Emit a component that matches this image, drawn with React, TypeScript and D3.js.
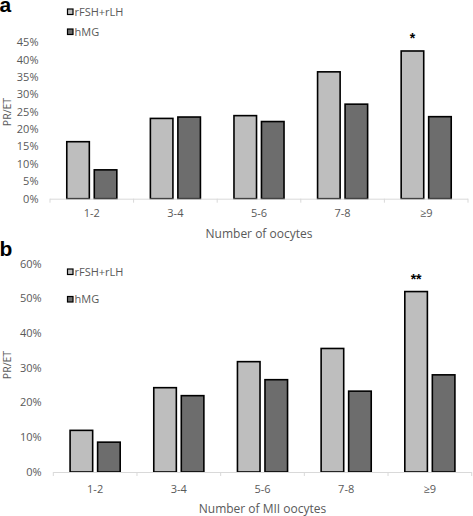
import React from "react";
import * as d3 from "d3";

const categories = ["1-2", "3-4", "5-6", "7-8", "≥9"];
const seriesNames = ["rFSH+rLH", "hMG"];
const seriesColors = ["#BEBEBE", "#6D6D6D"];

const panelA_rFSH = [0.164, 0.231, 0.239, 0.365, 0.425];
const panelA_hMG = [0.083, 0.235, 0.222, 0.272, 0.236];
const panelA_ticks = [0, 0.05, 0.1, 0.15, 0.2, 0.25, 0.3, 0.35, 0.4, 0.45];

const panelB_rFSH = [0.12, 0.243, 0.318, 0.356, 0.52];
const panelB_hMG = [0.086, 0.22, 0.266, 0.233, 0.28];
const panelB_ticks = [0, 0.1, 0.2, 0.3, 0.4, 0.5, 0.6];

const FONT = "'Open Sans', 'Liberation Sans', sans-serif";
const TXT = "#595959";

type PanelProps = {
  letter: string;
  letterY: number;
  rFSH: number[];
  hMG: number[];
  ticks: number[];
  yMax: number;
  y0: number;
  yTop: number;
  x0: number;
  x1: number;
  tickLabelX: number;
  legendY: number[];
  star: string;
  starIndex: number;
  xTitle: string;
  xTitleY: number;
  catLabelY: number;
  yTitleY: number;
};

function Panel(p: PanelProps) {
  const x = d3.scaleBand<string>().domain(categories).range([p.x0, p.x1]).padding(0);
  const xs = d3
    .scaleBand<string>()
    .domain(seriesNames)
    .range([0, x.bandwidth()])
    .paddingInner(0.18)
    .paddingOuter(0.61);
  const y = d3.scaleLinear().domain([0, p.yMax]).range([p.y0, p.yTop]);
  const fmt = d3.format(".0%");
  const values = [p.rFSH, p.hMG];
  const boundaries = [...categories.map((c) => x(c)!), p.x1];
  return (
    <g>
      <text x={-0.5} y={p.letterY} fontFamily="'Liberation Sans', Arial, sans-serif" fontWeight="bold" fontSize={21} fill="#000">
        {p.letter}
      </text>
      {p.ticks.map((t) => (
        <text key={t} x={p.tickLabelX} y={y(t)} dy="0.35em" textAnchor="end" fontFamily={FONT} fontSize={11} fill={TXT}>
          {fmt(t)}
        </text>
      ))}
      <text
        transform={`translate(10.5,${p.yTitleY}) rotate(-90)`}
        textAnchor="middle"
        fontFamily={FONT}
        fontSize={10.5}
        fill={TXT}
      >
        PR/ET
      </text>
      {seriesNames.map((s, si) =>
        categories.map((c, ci) => (
          <rect
            key={s + c}
            x={x(c)! + xs(s)!}
            y={y(values[si][ci])}
            width={xs.bandwidth()}
            height={p.y0 - y(values[si][ci])}
            fill={seriesColors[si]}
            stroke="#000"
            strokeWidth={1.6}
          />
        ))
      )}
      <line x1={p.x0} x2={p.x1} y1={p.y0 + 0.5} y2={p.y0 + 0.5} stroke="#D9D9D9" strokeWidth={1} />
      {boundaries.map((b, i) => (
        <line key={i} x1={b} x2={b} y1={p.y0} y2={p.y0 + 4} stroke="#D9D9D9" strokeWidth={1} />
      ))}
      {categories.map((c) => (
        <text key={c} x={x(c)! + x.bandwidth() / 2} y={p.catLabelY} dy="0.35em" textAnchor="middle" fontFamily={FONT} fontSize={11} fill={TXT}>
          {c}
        </text>
      ))}
      <text x={(p.x0 + p.x1) / 2} y={p.xTitleY} dy="0.35em" textAnchor="middle" fontFamily={FONT} fontSize={12} fill={TXT}>
        {p.xTitle}
      </text>
      <text
        x={x(categories[p.starIndex])! + xs(seriesNames[0])! + xs.bandwidth() / 2}
        y={y(p.rFSH[p.starIndex]) - 8}
        textAnchor="middle"
        fontFamily="'Liberation Sans', Arial, sans-serif"
        fontWeight="bold"
        fontSize={14}
        fill="#000"
      >
        {p.star}
      </text>
      {seriesNames.map((s, si) => (
        <g key={s}>
          <rect x={67.5} y={p.legendY[si] - 3} width={5.5} height={5.5} fill={seriesColors[si]} stroke="#000" strokeWidth={1.2} />
          <text x={74.5} y={p.legendY[si]} dy="0.35em" fontFamily={FONT} fontSize={11} fill={TXT}>
            {s}
          </text>
        </g>
      ))}
    </g>
  );
}

export default function App() {
  return (
    <svg width={473} height={516} style={{ position: "absolute", left: 0, top: 0, background: "#fff" }}>
      <rect width={473} height={516} fill="#fff" />
      <Panel
        letter="a"
        letterY={11.5}
        rFSH={panelA_rFSH}
        hMG={panelA_hMG}
        ticks={panelA_ticks}
        yMax={0.45}
        y0={198.7}
        yTop={42.3}
        x0={50}
        x1={468}
        tickLabelX={38.5}
        legendY={[12, 32]}
        star="*"
        starIndex={4}
        xTitle="Number of oocytes"
        xTitleY={234}
        catLabelY={213}
        yTitleY={112}
      />
      <Panel
        letter="b"
        letterY={256}
        rFSH={panelB_rFSH}
        hMG={panelB_hMG}
        ticks={panelB_ticks}
        yMax={0.6}
        y0={472}
        yTop={263.8}
        x0={53.3}
        x1={471.7}
        tickLabelX={41.7}
        legendY={[272, 299.5]}
        star="**"
        starIndex={4}
        xTitle="Number of MII oocytes"
        xTitleY={509}
        catLabelY={489}
        yTitleY={365}
      />
    </svg>
  );
}
